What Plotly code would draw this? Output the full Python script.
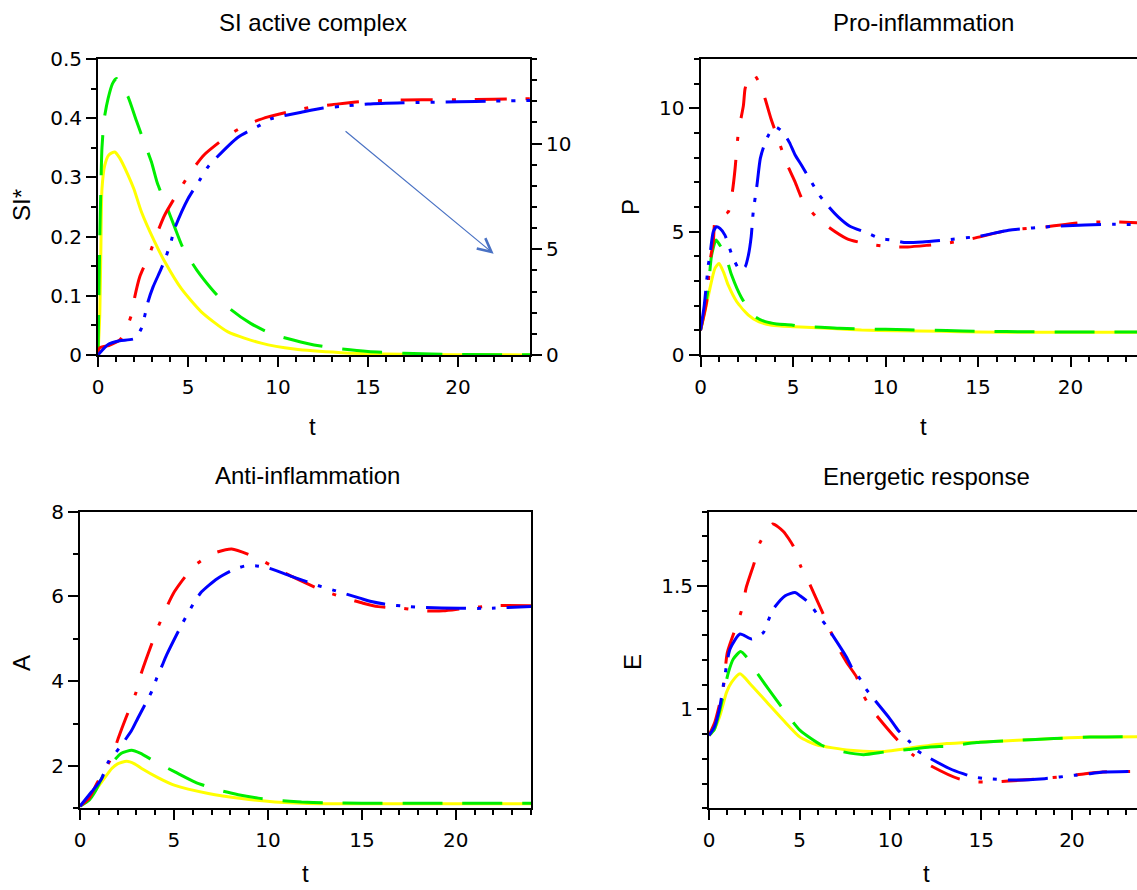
import plotly.graph_objects as go

W, H = 1137, 890

# ---------------- SI active complex ----------------
si_green_t = [0, 0.05, 0.1, 0.15, 0.22, 0.35, 0.56, 0.8, 1.02, 1.3, 1.67, 2.13, 2.5, 2.97, 3.3, 3.8, 4.26, 4.72, 5.5, 6.3, 7.3, 8.5, 9.7, 10.9, 12, 13.3, 15, 17, 20, 24]
si_green = [0, 0.1, 0.2, 0.27, 0.35, 0.40, 0.433, 0.458, 0.467, 0.455, 0.436, 0.396, 0.365, 0.326, 0.29, 0.252, 0.216, 0.181, 0.143, 0.112, 0.079, 0.053, 0.035, 0.025, 0.017, 0.011, 0.006, 0.003, 0.001, 0.0003]
si_yellow_t = [0, 0.1, 0.16, 0.22, 0.37, 0.6, 0.93, 1.2, 1.67, 2.0, 2.41, 3.15, 3.72, 4.63, 5.74, 7.22, 9.07, 10.9, 13.5, 16, 20, 24]
si_yellow = [0, 0.07, 0.18, 0.28, 0.32, 0.338, 0.343, 0.333, 0.304, 0.28, 0.242, 0.191, 0.157, 0.112, 0.073, 0.039, 0.02, 0.01, 0.004, 0.0015, 0.0005, 0.0001]
# red / blue read on the right-hand axis
si_red_t = [0, 0.1, 0.6, 1.2, 1.48, 1.85, 2.04, 2.32, 2.87, 3.24, 3.7, 4.45, 5.15, 5.89, 7.3, 8.33, 9.45, 10.9, 11.9, 13, 14.5, 16, 18, 20, 22, 24]
si_red = [0, 0.34, 0.45, 0.70, 1.04, 1.88, 2.74, 3.70, 4.79, 5.66, 6.61, 7.70, 8.65, 9.46, 10.42, 10.92, 11.26, 11.56, 11.73, 11.84, 11.98, 12.04, 12.07, 12.07, 12.10, 12.12]
si_blue_t = [0, 0.56, 1.2, 2.04, 2.41, 2.78, 3.06, 3.5, 3.8, 4.08, 4.26, 5.0, 5.7, 6.11, 7.78, 8.98, 9.6, 11.3, 12.5, 13.5, 15, 17, 20, 22, 24]
si_blue = [0, 0.50, 0.67, 0.78, 1.26, 2.52, 3.22, 4.06, 4.70, 5.43, 5.99, 7.39, 8.34, 8.90, 10.30, 10.86, 11.17, 11.48, 11.68, 11.76, 11.87, 11.93, 11.98, 12.01, 12.04]

# ---------------- Pro-inflammation ----------------
p_red_t = [0, 0.33, 0.51, 0.69, 0.8, 1.0, 1.5, 1.72, 1.87, 1.96, 2.05, 2.32, 2.41, 2.6, 2.86, 3.2, 3.49, 3.81, 4.12, 4.66, 5.11, 5.56, 6.2, 6.91, 7.9, 8.89, 10.34, 11.2, 12.3, 13.2, 14.7, 16.65, 18.6, 20.5, 21.9, 24]
p_red = [1.0, 2.16, 3.78, 4.59, 5.5, 5.6, 5.8, 6.61, 7.56, 8.37, 9.04, 10.12, 10.8, 11.2, 11.4, 11.0, 10.39, 9.58, 8.91, 7.76, 7.02, 6.21, 5.65, 5.19, 4.72, 4.52, 4.38, 4.38, 4.45, 4.52, 4.72, 5.06, 5.19, 5.36, 5.4, 5.35]
p_blue_t = [0, 0.2, 0.42, 0.51, 0.69, 0.87, 1.05, 1.32, 1.77, 2.14, 2.41, 2.59, 2.74, 2.85, 3.05, 3.23, 3.41, 3.7, 4.05, 4.45, 4.81, 5.1, 5.46, 6.43, 6.94, 7.44, 8.05, 9.0, 9.73, 10.36, 11.0, 12.0, 13.2, 15.1, 16.65, 19.2, 22.4, 24]
p_blue = [1.0, 2.0, 3.64, 4.05, 5.0, 5.2, 5.13, 4.86, 3.91, 3.44, 3.57, 4.05, 4.8, 5.8, 6.88, 7.96, 8.43, 8.95, 9.24, 9.04, 8.61, 8.13, 7.69, 6.48, 6.0, 5.6, 5.23, 4.95, 4.72, 4.66, 4.56, 4.58, 4.66, 4.82, 5.06, 5.22, 5.3, 5.28]
p_green_t = [0, 0.24, 0.42, 0.6, 0.84, 1.05, 1.32, 1.68, 2.23, 2.95, 3.5, 4.12, 4.93, 5.3, 6.5, 7.5, 10, 11.2, 13.3, 15, 18, 20, 24]
p_green = [1.0, 1.89, 2.7, 4.05, 4.66, 4.45, 4.12, 3.24, 2.3, 1.55, 1.35, 1.26, 1.22, 1.17, 1.12, 1.08, 1.04, 1.02, 0.99, 0.96, 0.94, 0.93, 0.93]
p_yellow_t = [0, 0.24, 0.51, 0.78, 1.0, 1.25, 1.5, 1.96, 2.59, 3.14, 3.86, 5.1, 6.9, 8.7, 10.5, 13, 15, 18, 20, 24]
p_yellow = [1.0, 1.75, 2.7, 3.51, 3.71, 3.35, 2.83, 2.16, 1.62, 1.35, 1.21, 1.15, 1.08, 1.01, 0.98, 0.96, 0.93, 0.92, 0.92, 0.92]

# ---------------- Anti-inflammation ----------------
a_red_t = [0, 0.5, 0.89, 1.69, 2.04, 2.43, 2.96, 3.24, 3.6, 4.13, 4.52, 5.02, 6.03, 7.0, 8.07, 9.45, 10.37, 10.7, 11.8, 12.85, 13.83, 15.07, 15.87, 17.2, 18.26, 19.33, 20.5, 21.99, 24]
a_red = [1.05, 1.25, 1.58, 2.21, 2.66, 3.12, 3.71, 4.16, 4.62, 5.25, 5.66, 6.11, 6.7, 7.0, 7.12, 6.9, 6.68, 6.6, 6.36, 6.15, 6.0, 5.84, 5.76, 5.72, 5.66, 5.66, 5.72, 5.78, 5.78]
a_blue_t = [0, 0.62, 1.15, 1.51, 1.86, 2.3, 2.75, 3.07, 3.85, 4.08, 4.38, 4.61, 5.41, 6.08, 6.47, 7.3, 8.16, 8.78, 9.4, 10.02, 11.4, 12.85, 13.47, 14.89, 15.5, 16.2, 17.5, 18.26, 20.2, 21.6, 24]
a_blue = [1.05, 1.39, 1.7, 2.1, 2.29, 2.55, 2.84, 3.12, 3.79, 4.07, 4.38, 4.62, 5.33, 5.86, 6.11, 6.42, 6.63, 6.72, 6.72, 6.67, 6.45, 6.23, 6.15, 5.96, 5.88, 5.82, 5.76, 5.74, 5.72, 5.72, 5.76]
a_green_t = [0, 0.5, 0.8, 1.33, 1.8, 2.2, 2.75, 3.2, 4.0, 5.05, 6.12, 7.2, 8.42, 9.49, 10.5, 11.79, 13, 15, 18, 24]
a_green = [1.05, 1.2, 1.39, 1.86, 2.12, 2.3, 2.37, 2.3, 2.1, 1.86, 1.62, 1.45, 1.32, 1.24, 1.19, 1.15, 1.13, 1.12, 1.12, 1.12]
a_yellow_t = [0, 0.62, 1.15, 1.69, 2.0, 2.48, 2.9, 3.28, 4.17, 5.05, 6.83, 8.6, 10.37, 12.85, 15, 18, 24]
a_yellow = [1.05, 1.31, 1.62, 1.94, 2.05, 2.11, 2.05, 1.94, 1.72, 1.54, 1.35, 1.23, 1.15, 1.11, 1.11, 1.11, 1.11]

# ---------------- Energetic response ----------------
e_red_t = [0, 0.33, 0.79, 1.01, 1.52, 1.86, 2.04, 2.48, 2.81, 3.51, 4.1, 4.65, 5.05, 5.53, 6.21, 7.04, 7.59, 8.14, 8.42, 8.97, 10.34, 11.26, 12.27, 13.74, 14.76, 15.77, 17.24, 18.25, 19.35, 20.73, 21.74, 24]
e_red = [0.895, 0.95, 1.09, 1.23, 1.34, 1.417, 1.49, 1.59, 1.675, 1.75, 1.72, 1.66, 1.58, 1.51, 1.40, 1.26, 1.19, 1.13, 1.07, 1.0, 0.88, 0.815, 0.77, 0.72, 0.707, 0.707, 0.714, 0.72, 0.727, 0.74, 0.747, 0.75]
e_blue_t = [0, 0.3, 0.61, 0.88, 1.16, 1.71, 2.35, 2.99, 3.27, 3.54, 4.2, 4.74, 5.02, 5.48, 6.03, 6.45, 7.59, 7.86, 8.32, 8.65, 9.97, 10.43, 11.07, 11.44, 13.28, 14.0, 14.57, 15.3, 16.8, 18.5, 20.18, 21.0, 21.7, 24]
e_blue = [0.895, 0.93, 1.016, 1.14, 1.245, 1.305, 1.285, 1.31, 1.36, 1.406, 1.46, 1.473, 1.46, 1.433, 1.38, 1.34, 1.21, 1.17, 1.124, 1.083, 0.962, 0.915, 0.868, 0.835, 0.76, 0.74, 0.727, 0.72, 0.714, 0.72, 0.734, 0.74, 0.747, 0.75]
e_green_t = [0, 0.3, 0.61, 1.07, 1.34, 1.74, 2.16, 2.53, 3.27, 4.2, 5.02, 6.21, 7.3, 8.51, 9.71, 11, 12.19, 13.3, 14.76, 17, 19, 21, 24]
e_green = [0.895, 0.92, 1.0, 1.15, 1.204, 1.234, 1.204, 1.16, 1.083, 0.99, 0.915, 0.855, 0.83, 0.817, 0.828, 0.838, 0.848, 0.852, 0.866, 0.875, 0.882, 0.888, 0.89]
e_yellow_t = [0, 0.3, 0.61, 0.97, 1.25, 1.71, 2.26, 3.18, 4.1, 5.02, 5.93, 7.77, 9.6, 11.44, 13.1, 15, 17, 19, 21, 24]
e_yellow = [0.895, 0.92, 0.976, 1.07, 1.11, 1.144, 1.104, 1.03, 0.956, 0.888, 0.857, 0.835, 0.83, 0.848, 0.862, 0.868, 0.875, 0.882, 0.888, 0.89]

titles = ["SI active complex", "Pro-inflammation", "Anti-inflammation", "Energetic response"]
ylabels = ["SI*", "P", "A", "E"]
xlabel = "t"

# arrow annotation in the first panel (data coordinates)
arrow_tail = (13.67, 0.38)
arrow_head = (21.98, 0.171)

RED, BLUE, GREEN, YELLOW = "#ff0000", "#0000ff", "#00ee00", "#ffff00"
DASH_RED = "32px,19px,4px,19px"
DASH_BLUE = "40px,11px,4px,11px,4px,11px"
DASH_GREEN = "40px,20px"
LW = 3


def px_x(p):
    return p / W


def px_y(p):
    return 1 - p / H


fig = go.Figure()


def add(t, v, color, dash, xa, ya):
    fig.add_trace(go.Scatter(x=t, y=v, mode="lines", xaxis=xa, yaxis=ya,
                             line=dict(color=color, width=LW, dash=dash, shape="spline", smoothing=0.6),
                             showlegend=False, hoverinfo="skip"))


# panel 1
add(si_yellow_t, si_yellow, YELLOW, "solid", "x", "y")
add(si_green_t, si_green, GREEN, DASH_GREEN, "x", "y")
add(si_red_t, si_red, RED, DASH_RED, "x", "y5")
add(si_blue_t, si_blue, BLUE, DASH_BLUE, "x", "y5")
# panel 2
add(p_yellow_t, p_yellow, YELLOW, "solid", "x2", "y2")
add(p_green_t, p_green, GREEN, DASH_GREEN, "x2", "y2")
add(p_red_t, p_red, RED, DASH_RED, "x2", "y2")
add(p_blue_t, p_blue, BLUE, DASH_BLUE, "x2", "y2")
# panel 3
add(a_yellow_t, a_yellow, YELLOW, "solid", "x3", "y3")
add(a_green_t, a_green, GREEN, DASH_GREEN, "x3", "y3")
add(a_red_t, a_red, RED, DASH_RED, "x3", "y3")
add(a_blue_t, a_blue, BLUE, DASH_BLUE, "x3", "y3")
# panel 4
add(e_yellow_t, e_yellow, YELLOW, "solid", "x4", "y4")
add(e_green_t, e_green, GREEN, DASH_GREEN, "x4", "y4")
add(e_red_t, e_red, RED, DASH_RED, "x4", "y4")
add(e_blue_t, e_blue, BLUE, DASH_BLUE, "x4", "y4")

TICKFONT = dict(family="DejaVu Sans", size=20, color="black")
base = dict(showline=True, linecolor="black", linewidth=2, ticks="outside", ticklen=10,
            tickwidth=2, tickcolor="black", showgrid=False, zeroline=False, tickfont=TICKFONT,
            fixedrange=True, automargin=False)


def minor(d):
    return dict(ticks="outside", ticklen=5, tickwidth=1.5, tickcolor="black", dtick=d, showgrid=False)


def xaxis(dom, rng, anchor):
    return dict(base, domain=dom, range=rng, anchor=anchor, tick0=0, dtick=5, mirror=True,
                minor=minor(1), ticklabelstandoff=3)


def yaxis(dom, rng, anchor, dt, mdt, mirror):
    return dict(base, domain=dom, range=rng, anchor=anchor, tick0=0, dtick=dt, mirror=mirror,
                minor=minor(mdt))


top_y = [px_y(355), px_y(59)]
bot_y = [px_y(808.3), px_y(511.7)]

fig.update_layout(
    width=W, height=H, margin=dict(l=0, r=0, t=0, b=0, autoexpand=False),
    paper_bgcolor="white", plot_bgcolor="white", showlegend=False,
    xaxis=xaxis([px_x(98), px_x(530)], [0, 24], "y"),
    yaxis=yaxis(top_y, [0, 0.5], "x", 0.1, 0.05, False),
    yaxis5=dict(base, overlaying="y", side="right", anchor="x", range=[0, 14], tick0=0, dtick=5,
                minor=minor(1)),
    xaxis2=xaxis([px_x(700.5), 1.0], [0, 23.59], "y2"),
    yaxis2=yaxis(top_y, [0, 12], "x2", 5, 1, False),
    xaxis3=xaxis([px_x(80), px_x(531)], [0, 24], "y3"),
    yaxis3=yaxis(bot_y, [1, 8], "x3", 2, 1, True),
    xaxis4=xaxis([px_x(709), 1.0], [0, 23.59], "y4"),
    yaxis4=yaxis(bot_y, [0.6, 1.8], "x4", 0.5, 0.1, False),
)

TXT = dict(family="Liberation Sans, Arial", size=24, color="black")
LBL = dict(family="Liberation Sans, Arial", size=24, color="black")
ann = []
title_pos = [(313, 23), (923, 22), (307, 475), (926, 477)]
for txt, (x, y) in zip(titles, title_pos):
    ann.append(dict(text=txt, x=px_x(x), y=px_y(y), xref="paper", yref="paper", showarrow=False,
                    xanchor="center", yanchor="middle", font=TXT))
ylab_pos = [(21, 205), (630, 207), (21, 663), (632, 662)]
for txt, (x, y) in zip(ylabels, ylab_pos):
    ann.append(dict(text=txt, x=px_x(x), y=px_y(y), xref="paper", yref="paper", showarrow=False,
                    xanchor="center", yanchor="middle", textangle=-90, font=LBL))
tlab_pos = [(312, 426), (923, 426), (305, 873), (926, 873)]
for (x, y) in tlab_pos:
    ann.append(dict(text=xlabel, x=px_x(x), y=px_y(y), xref="paper", yref="paper", showarrow=False,
                    xanchor="center", yanchor="middle", font=LBL, borderpad=0))
ann.append(dict(text="", x=arrow_head[0], y=arrow_head[1], ax=arrow_tail[0], ay=arrow_tail[1],
                xref="x", yref="y", axref="x", ayref="y", showarrow=True, arrowhead=5,
                arrowsize=2.2, arrowwidth=1.2, arrowcolor="#4a72c4"))
fig.update_layout(annotations=ann)

fig.write_html("out.html", config={"displayModeBar": False},
               post_script="document.body.style.margin='0px';document.body.style.overflow='hidden';")
